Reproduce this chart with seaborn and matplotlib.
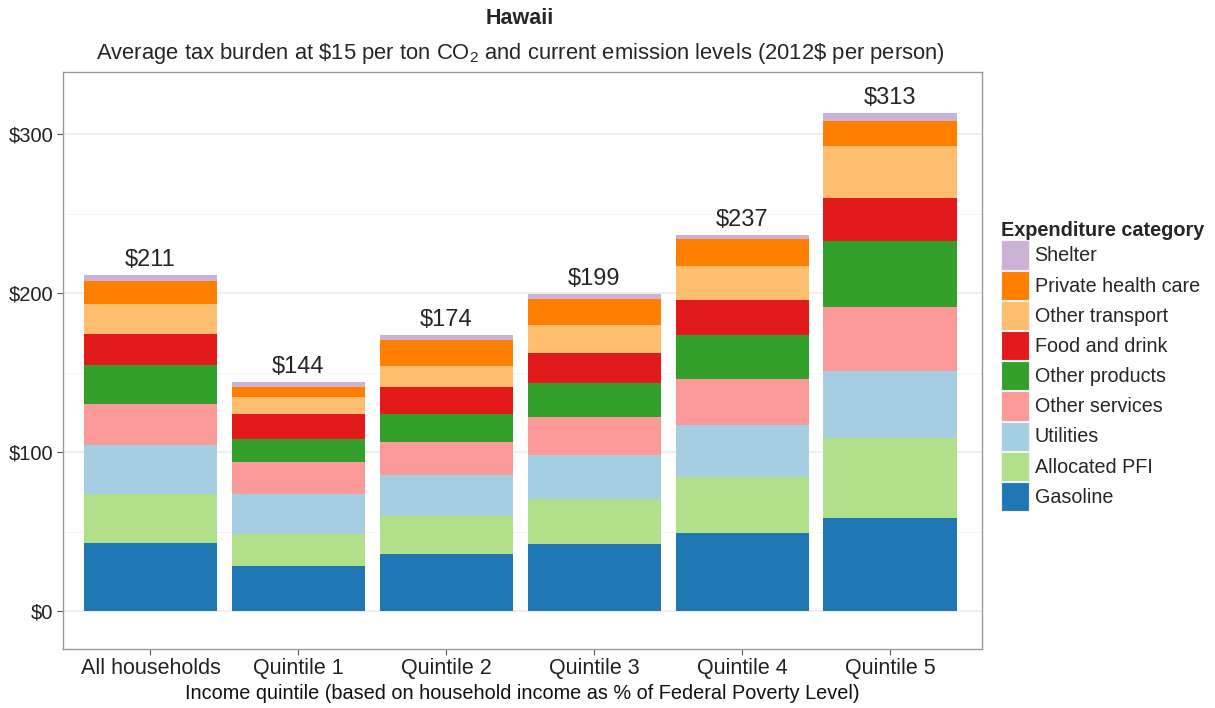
import pandas as pd
import numpy as np
import seaborn as sns
import matplotlib.pyplot as plt
from matplotlib.patches import Patch
from matplotlib.ticker import MultipleLocator

groups = ["All households", "Quintile 1", "Quintile 2", "Quintile 3", "Quintile 4", "Quintile 5"]
totals = [211, 144, 174, 199, 237, 313]

# bottom to top stacking order
categories = ["Gasoline", "Allocated PFI", "Utilities", "Other services", "Other products",
              "Food and drink", "Other transport", "Private health care", "Shelter"]
gasoline = [42.6, 28.3, 36.0, 42.3, 49.2, 58.6]
allocated_pfi = [31.0, 20.1, 23.7, 28.3, 35.3, 50.5]
utilities = [30.6, 25.2, 25.8, 27.9, 32.4, 42.0]
other_services = [26.2, 20.1, 20.6, 23.7, 29.3, 40.0]
other_products = [24.1, 14.5, 18.2, 21.4, 27.7, 41.6]
food_drink = [19.7, 15.7, 16.6, 18.5, 21.7, 27.3]
other_transport = [19.1, 10.9, 13.2, 17.6, 21.7, 32.3]
private_health = [14.2, 6.1, 16.3, 16.5, 16.5, 15.9]
shelter = [3.8, 3.1, 3.0, 3.2, 3.0, 4.9]

colors = ["#1F78B4", "#B2DF8A", "#A6CEE3", "#FB9A99", "#33A02C",
          "#E31A1C", "#FDBF6F", "#FF7F00", "#CAB2D6"]

series = [gasoline, allocated_pfi, utilities, other_services, other_products,
          food_drink, other_transport, private_health, shelter]
df = pd.DataFrame({"group": groups})
for cat, vals in zip(categories, series):
    df[cat] = vals
cum = df[categories].cumsum(axis=1)

sns.set_style("whitegrid")
plt.rcParams["font.family"] = ["Liberation Sans", "DejaVu Sans"]
plt.rcParams["mathtext.fontset"] = "custom"
plt.rcParams["mathtext.rm"] = "Liberation Sans"

fig = plt.figure(figsize=(12.15, 7.08), dpi=100)
ax = fig.add_axes([0.052, 0.083, 0.756, 0.815])

# draw cumulative heights from the top layer down so lower layers cover them
for cat, col in reversed(list(zip(categories, colors))):
    sns.barplot(x=df["group"], y=cum[cat], color=col, width=0.9, linewidth=0,
                edgecolor="none", saturation=1, order=groups, ax=ax, zorder=3)

for i, t in enumerate(totals):
    ax.text(i, cum["Shelter"][i] + 2.5, f"${t}", ha="center", va="bottom", fontsize=17)

ax.set_xlim(-0.59, 5.62)
ax.set_ylim(-24, 339)
ax.yaxis.set_major_locator(MultipleLocator(100))
ax.yaxis.set_minor_locator(MultipleLocator(50))
ax.set_yticks([0, 100, 200, 300])
ax.set_yticklabels(["$0", "$100", "$200", "$300"])
ax.grid(axis="x", visible=False)
ax.grid(axis="y", which="major", color="#EBEBEB", linewidth=1.1, zorder=0)
ax.grid(axis="y", which="minor", color="#F4F4F4", linewidth=0.6, zorder=0)
ax.set_axisbelow(True)
for sp in ax.spines.values():
    sp.set_color("#9A9A9A")
    sp.set_linewidth(1.0)
ax.tick_params(axis="both", which="major", length=4, color="#555555", labelsize=14.5,
               labelcolor="#222222", left=True, bottom=True, pad=3)
ax.tick_params(axis="x", labelsize=15.5, pad=2)
ax.tick_params(axis="y", which="minor", length=0)
ax.set_xlabel("Income quintile (based on household income as % of Federal Poverty Level)",
              fontsize=14.3, color="#111111", labelpad=4)
ax.set_ylabel("")

fig.text(0.428, 0.974, "Hawaii", ha="center", va="center", fontsize=15.5, fontweight="bold")
fig.text(0.428, 0.925,
         r"Average tax burden at \$15 per ton CO$_2$ and current emission levels (2012\$ per person)",
         ha="center", va="center", fontsize=15.8)

handles = [Patch(facecolor=c, edgecolor="#F2F2F2", linewidth=0.8, label=l)
           for c, l in reversed(list(zip(colors, categories)))]
leg = ax.legend(handles=handles, title="Expenditure category", loc="upper left",
                bbox_to_anchor=(1.021, 0.743), frameon=False, fontsize=14.2,
                title_fontproperties={"weight": "bold", "size": 14.3},
                handlelength=1.4, handleheight=1.9, handletextpad=0.3,
                labelspacing=0.05, borderaxespad=0, borderpad=0)
leg._legend_box.align = "left"

fig.savefig("out.png", dpi=100)
